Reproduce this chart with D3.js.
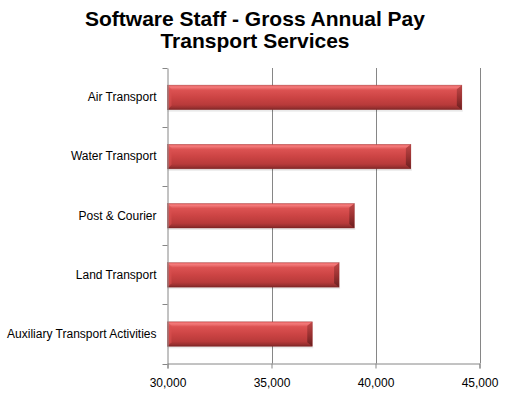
<!DOCTYPE html>
<html><head><meta charset="utf-8">
<script src="https://cdn.jsdelivr.net/npm/d3@7"></script>
<style>body{margin:0;background:#fff}svg{display:block}text{font-family:"Liberation Sans",Arial,sans-serif}</style>
</head><body><svg id="c" width="505" height="397"></svg>
<script>
const categories = ["Air Transport","Water Transport","Post & Courier","Land Transport","Auxiliary Transport Activities"];
const values = [44150, 41700, 38980, 38250, 36960];
const xTicks = [30000, 35000, 40000, 45000];
const titleLines = ["Software Staff - Gross Annual Pay","Transport Services"];

const svg = d3.select("#c");
const L = 167.5, R = 479.5, T = 68, B = 363.5;
const x = d3.scaleLinear().domain([30000,45000]).range([L,R]);
const y = d3.scaleBand().domain(categories).range([T,B]).paddingInner(0.585).paddingOuter(0.29);

const defs = svg.append("defs");
const g = defs.append("linearGradient").attr("id","bar").attr("x1",0).attr("y1",0).attr("x2",0).attr("y2",1);
[[0,"#e86262"],[0.08,"#f37a7a"],[0.2,"#dc5252"],[0.5,"#cc4444"],[0.8,"#b83a3a"],[0.92,"#9a3030"],[1,"#7a2424"]]
  .forEach(s=>g.append("stop").attr("offset",s[0]).attr("stop-color",s[1]));
const ge = defs.append("linearGradient").attr("id","end").attr("x1",0).attr("y1",0).attr("x2",0).attr("y2",1);
[[0,"#c04848"],[0.5,"#9c3232"],[1,"#6a1f1f"]].forEach(s=>ge.append("stop").attr("offset",s[0]).attr("stop-color",s[1]));

// gridlines
svg.append("g").selectAll("line").data(xTicks.slice(1)).join("line")
  .attr("x1",d=>Math.round(x(d))+0.5).attr("x2",d=>Math.round(x(d))+0.5).attr("y1",T).attr("y2",B)
  .attr("stroke","#868686").attr("stroke-width",1);

// bars shadow
svg.append("g").selectAll("rect").data(values).join("rect")
  .attr("x",L).attr("y",(d,i)=>y(categories[i])+y.bandwidth()).attr("width",d=>x(d)-L+1).attr("height",2)
  .attr("fill","#000").attr("opacity",0.08);
// bars
svg.append("g").selectAll("rect").data(values).join("rect")
  .attr("x",L).attr("y",(d,i)=>y(categories[i])).attr("width",d=>x(d)-L).attr("height",y.bandwidth())
  .attr("fill","url(#bar)");
// right bevel
svg.append("g").selectAll("path").data(values).join("path")
  .attr("d",(d,i)=>{const x1=x(d),y0=y(categories[i]),h=y.bandwidth();return `M${x1-5},${y0+4}L${x1},${y0}L${x1},${y0+h}L${x1-5},${y0+h-4}Z`;})
  .attr("fill","url(#end)");
// left bevel light
svg.append("g").selectAll("path").data(values).join("path")
  .attr("d",(d,i)=>{const y0=y(categories[i]),h=y.bandwidth();return `M${L},${y0}L${L+4},${y0+4}L${L+4},${y0+h-4}L${L},${y0+h}Z`;})
  .attr("fill","#d85050").attr("opacity",0.6);
svg.append("g").selectAll("rect").data(values).join("rect")
  .attr("x",L).attr("y",(d,i)=>y(categories[i])).attr("width",d=>x(d)-L).attr("height",y.bandwidth())
  .attr("fill","none").attr("stroke","#8a2a2a").attr("stroke-width",0.6).attr("opacity",0.6);

// x axis
const xa = svg.append("g").attr("transform",`translate(0,${B})`)
  .call(d3.axisBottom(x).tickValues(xTicks).tickSize(5).tickPadding(10).tickFormat(d3.format(",")));
xa.select(".domain").attr("stroke","#868686");
xa.selectAll(".tick line").attr("stroke","#868686");
xa.selectAll("text").attr("font-size",12).attr("fill","#000");

// y axis
const yb = d3.scaleBand().domain(categories).range([T,B]);
const ya = svg.append("g").attr("transform",`translate(${L},0)`)
  .call(d3.axisLeft(y).tickSize(0).tickPadding(11));
ya.select(".domain").attr("stroke","#868686");
ya.selectAll("text").attr("font-size",12).attr("fill","#000");
svg.append("g").selectAll("line").data(categories.concat(["_end"])).join("line")
  .attr("x1",L-5).attr("x2",L).attr("y1",(d,i)=>Math.round(T+i*yb.bandwidth())+0.5).attr("y2",(d,i)=>Math.round(T+i*yb.bandwidth())+0.5)
  .attr("stroke","#868686");

// title
svg.append("g").selectAll("text").data(titleLines).join("text")
  .attr("x",255).attr("y",(d,i)=>26+i*22).attr("text-anchor","middle")
  .attr("font-size",21).attr("font-weight","bold").attr("fill","#000").text(d=>d);
</script></body></html>
